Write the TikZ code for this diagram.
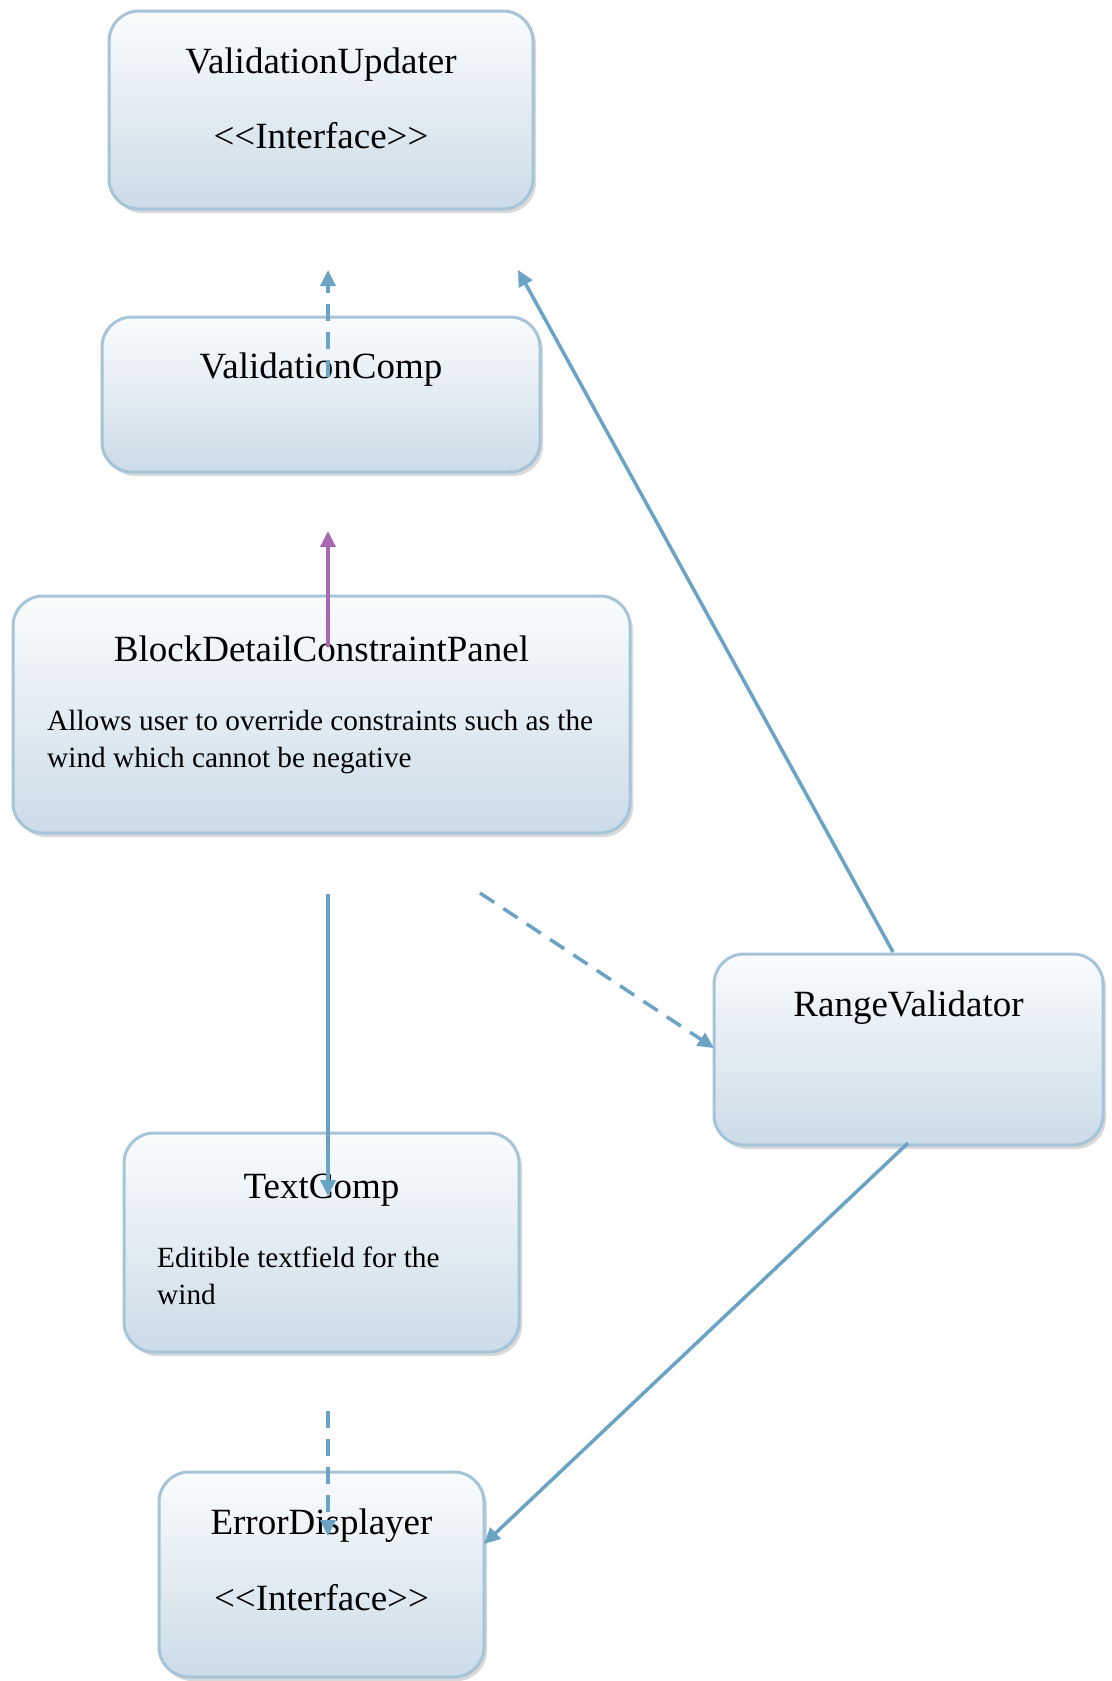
\documentclass[tikz,border=0pt]{standalone}
\usepackage{fontspec}
\setmainfont{Liberation Serif}
\usepackage{tikz}
\usetikzlibrary{arrows.meta,shadows}

\definecolor{boxline}{HTML}{A6C4D8}
\definecolor{shadetop}{HTML}{FAFCFD}
\definecolor{shadebot}{HTML}{CBDCE8}
\definecolor{linkblue}{HTML}{6AA3C4}
\definecolor{linkpurple}{HTML}{A966B1}

\newcommand{\stereo}[1]{<\kern0pt<#1>\kern0pt>}

\tikzset{
  classbox/.style={draw=boxline, line width=3pt, rounded corners=30pt, inner sep=0pt,
    top color=shadetop, bottom color=shadebot,
    drop shadow={shadow xshift=3pt, shadow yshift=-4pt, opacity=0.3, fill=gray}},
  title/.style={inner sep=0pt, anchor=base, font=\fontsize{37}{44}\selectfont},
  note/.style={inner sep=0pt, anchor=west, align=left, font=\fontsize{29.3}{36.5}\selectfont},
  link/.style={line width=3.5pt, color=linkblue, -{Triangle[length=16pt,width=15pt]}},
  dashlink/.style={link, dash pattern=on 17pt off 11pt},
}

\begin{document}
\begin{tikzpicture}[x=1pt,y=-1pt]
\useasboundingbox (0,0) rectangle (1111,1681);

\node (vu) [classbox, minimum width=424pt, minimum height=198pt] at (321,110) {};
\node (vuname) [title] at ([yshift=-64pt]vu.north) {ValidationUpdater};
\node (vukind) [title] at ([yshift=-139pt]vu.north) {\stereo{Interface}};

\node (vcomp) [classbox, minimum width=438pt, minimum height=155pt] at (321,394.5) {};
\node (vcompname) [title] at ([yshift=-63pt]vcomp.north) {ValidationComp};

\node (bdcp) [classbox, minimum width=617pt, minimum height=237pt] at (321.5,714.5) {};
\node (bdcpname) [title] at ([yshift=-67pt]bdcp.north) {BlockDetailConstraintPanel};
\node (bdcpnote) [note] at (47,742) {Allows user to override constraints such as the\\wind which cannot be negative};

\node (rv) [classbox, minimum width=389pt, minimum height=191pt] at (908.5,1049.5) {};
\node (rvname) [title] at ([yshift=-64pt]rv.north) {RangeValidator};

\node (tcomp) [classbox, minimum width=395pt, minimum height=219pt] at (321.5,1242.5) {};
\node (tcompname) [title] at ([yshift=-67pt]tcomp.north) {TextComp};
\node (tcompnote) [note] at (157,1276) {Editible textfield for the\\wind};

\node (ed) [classbox, minimum width=325pt, minimum height=205pt] at (321.5,1574.5) {};
\node (edname) [title] at ([yshift=-64pt]ed.north) {ErrorDisplayer};
\node (edkind) [title] at ([yshift=-140pt]ed.north) {\stereo{Interface}};

\coordinate (vcompup) at (328,377);
\coordinate (vutipa) at (328,270);
\coordinate (rvup) at (893,952);
\coordinate (vutipb) at (518,270);
\coordinate (bdcpup) at (328,647);
\coordinate (vcomptip) at (328,531);
\coordinate (bdcpdown) at (328,894);
\coordinate (tcomptip) at (328,1196);
\coordinate (bdcpside) at (480,893);
\coordinate (rvtip) at (714,1048);
\coordinate (tcompdown) at (328,1411);
\coordinate (edtip) at (328,1536);
\coordinate (rvdown) at (908,1143);
\coordinate (edside) at (484,1544);

\draw [dashlink] (vcompup) -- (vutipa);
\draw [link] (rvup) -- (vutipb);
\draw [link, color=linkpurple] (bdcpup) -- (vcomptip);
\draw [link] (bdcpdown) -- (tcomptip);
\draw [dashlink] (bdcpside) -- (rvtip);
\draw [dashlink] (tcompdown) -- (edtip);
\draw [link] (rvdown) -- (edside);
\end{tikzpicture}
\end{document}
